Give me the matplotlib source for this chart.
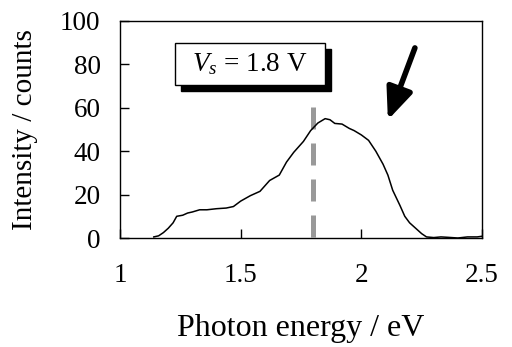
import matplotlib
matplotlib.use("Agg")
import matplotlib.pyplot as plt
from matplotlib.patches import Rectangle

plt.rcParams["font.family"] = ["Liberation Serif", "DejaVu Serif"]
plt.rcParams["mathtext.fontset"] = "custom"
plt.rcParams["mathtext.rm"] = "Liberation Serif"
plt.rcParams["mathtext.it"] = "Liberation Serif:italic"

# spectrum
energia = [1.14, 1.16, 1.18, 1.20, 1.22, 1.235, 1.26, 1.28, 1.30, 1.33, 1.36, 1.40,
           1.44, 1.47, 1.50, 1.54, 1.58, 1.62, 1.66, 1.69, 1.72, 1.76, 1.79, 1.82,
           1.85, 1.87, 1.89, 1.92, 1.95, 1.97, 2.00, 2.03, 2.06, 2.09, 2.11, 2.13,
           2.16, 2.18, 2.20, 2.23, 2.25, 2.27, 2.30, 2.33, 2.36, 2.40, 2.44, 2.48, 2.50]
intensidad = [0.5, 1.0, 2.5, 4.5, 7.0, 10.0, 10.5, 11.5, 12.0, 13.0, 13.0, 13.5,
              13.8, 14.5, 17.0, 19.5, 21.5, 26.5, 29.0, 35.0, 39.5, 44.5, 49.5, 53.0,
              55.0, 54.5, 52.8, 52.5, 50.5, 49.5, 47.5, 45.0, 40.0, 34.0, 29.0, 22.0,
              15.0, 10.0, 7.0, 4.0, 2.0, 0.5, 0.2, 0.5, 0.3, 0.0, 0.5, 0.5, 0.8]

VS = 1.8
ALTO_GUIA = 60.5
XTICKS = [1, 1.5, 2, 2.5]
XTICK_LABELS = ["1", "1.5", "2", "2.5"]
YTICKS = [0, 20, 40, 60, 80, 100]

fig = plt.figure(figsize=(5.12, 3.47), dpi=100)
ax = fig.add_axes([120 / 512, 1 - 238 / 347, 362 / 512, 217 / 347])

ax.plot([VS, VS], [ALTO_GUIA, 0], color="#999999", lw=3.6,
        linestyle=(0, (4.4, 2.8)), solid_capstyle="butt", zorder=1)
ax.plot(energia, intensidad, color="black", lw=1.1, zorder=2)

ax.set_xlim(1, 2.5)
ax.set_ylim(0, 100)
ax.set_xticks(XTICKS)
ax.set_xticklabels(XTICK_LABELS)
ax.set_yticks(YTICKS)
ax.tick_params(direction="in", length=6.5, width=1, labelsize=19.5)
ax.tick_params(axis="x", pad=18)
ax.tick_params(axis="y", pad=14)
for s in ax.spines.values():
    s.set_linewidth(1)
ax.set_xlabel("Photon energy / eV", fontsize=23, labelpad=19)
ax.set_ylabel("Intensity / counts", fontsize=21, labelpad=16)

# caja con sombra
sx, sy = 0.025, 2.8
ax.add_patch(Rectangle((1.228 + sx, 70.5 - sy), 0.621, 19.4, facecolor="black",
                       edgecolor="black", lw=1, zorder=4, clip_on=False))
ax.add_patch(Rectangle((1.228, 70.5), 0.621, 19.4, facecolor="white",
                       edgecolor="black", lw=1, zorder=5, clip_on=False))
ax.text(1.5385, 80.2, r"$V_s$ = 1.8 V", fontsize=19.5, ha="center", va="center", zorder=6)

ax.annotate("", xy=(2.11, 54.4), xytext=(2.222, 87.6),
            arrowprops=dict(arrowstyle="-|>,head_length=1.9,head_width=0.8",
                            lw=4, color="black", shrinkA=0, shrinkB=0))

fig.savefig("out.png", dpi=100)
